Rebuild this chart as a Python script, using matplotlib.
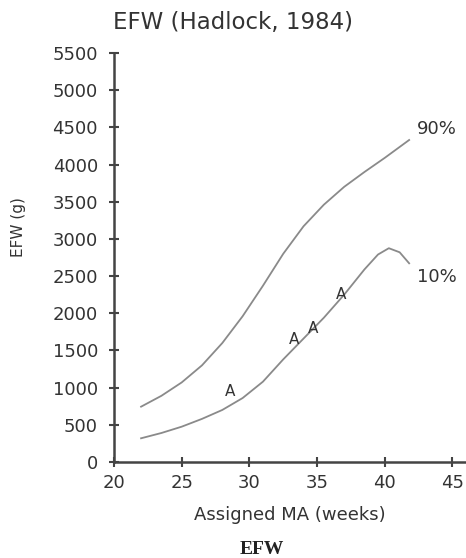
import matplotlib
matplotlib.use("Agg")
import matplotlib.pyplot as plt

# Hadlock (1984) EFW percentile curves, grams vs. menstrual age (weeks)
ma_p90 = [22.0, 23.5, 25.0, 26.5, 28.0, 29.5, 31.0, 32.5, 34.0, 35.5, 37.0, 38.5, 40.0, 41.8]
efw_p90 = [744, 890, 1070, 1300, 1600, 1960, 2370, 2800, 3170, 3460, 3700, 3900, 4090, 4330]

ma_p10 = [22.0, 23.5, 25.0, 26.5, 28.0, 29.5, 31.0, 32.5, 34.0, 35.5, 37.0, 38.5, 39.5, 40.3, 41.1, 41.8]
efw_p10 = [319, 390, 475, 580, 700, 860, 1080, 1380, 1660, 1940, 2250, 2590, 2790, 2875, 2820, 2672]

# Patient estimates
exam_ma = [28.6, 33.3, 34.7, 36.8]
exam_efw = [946, 1641, 1798, 2246]

x_ticks = [20, 25, 30, 35, 40, 45]
y_ticks = list(range(0, 5501, 500))

txt = "#333333"
axis_col = "#444444"
curve_col = "#8a8a8a"

fig = plt.figure(figsize=(4.66, 5.58), dpi=100)
ax = fig.add_axes([114 / 466, (558 - 462) / 558, (466 - 114) / 466, (462 - 53) / 558])

ax.plot(ma_p90, efw_p90, color=curve_col, lw=1.3)
ax.plot(ma_p10, efw_p10, color=curve_col, lw=1.3)
for xm, ym in zip(exam_ma, exam_efw):
    ax.text(xm, ym, "A", ha="center", va="center", fontsize=11, color=txt)

ax.text(42.4, 4476, "90%", ha="left", va="center", fontsize=13, color=txt)
ax.text(42.4, 2487, "10%", ha="left", va="center", fontsize=13, color=txt)

ax.set_xlim(20, 46)
ax.set_ylim(0, 5500)
ax.set_xticks(x_ticks)
ax.set_yticks(y_ticks)
for s in ("top", "right"):
    ax.spines[s].set_visible(False)
for s in ("left", "bottom"):
    ax.spines[s].set_color(axis_col)
    ax.spines[s].set_linewidth(1.8)
ax.tick_params(direction="inout", length=7, width=1.5, color=axis_col,
               labelsize=13, labelcolor=txt)
ax.tick_params(axis="y", pad=8)
ax.tick_params(axis="x", pad=5)

ax.set_xlabel("Assigned MA (weeks)", fontsize=13, color=txt, labelpad=10)
ax.set_ylabel("EFW (g)", fontsize=11, color=txt)
ax.yaxis.set_label_coords(-0.25, 0.575)

fig.text(0.501, 1 - 22 / 558, "EFW (Hadlock, 1984)", ha="center", va="center",
         fontsize=16.5, color=txt)
fig.text(0.562, 1 - 549 / 558, "EFW", ha="center", va="center",
         fontsize=14, fontweight="bold", family="Liberation Serif", color="#222222")

fig.savefig("out.png", dpi=100, facecolor="white")
